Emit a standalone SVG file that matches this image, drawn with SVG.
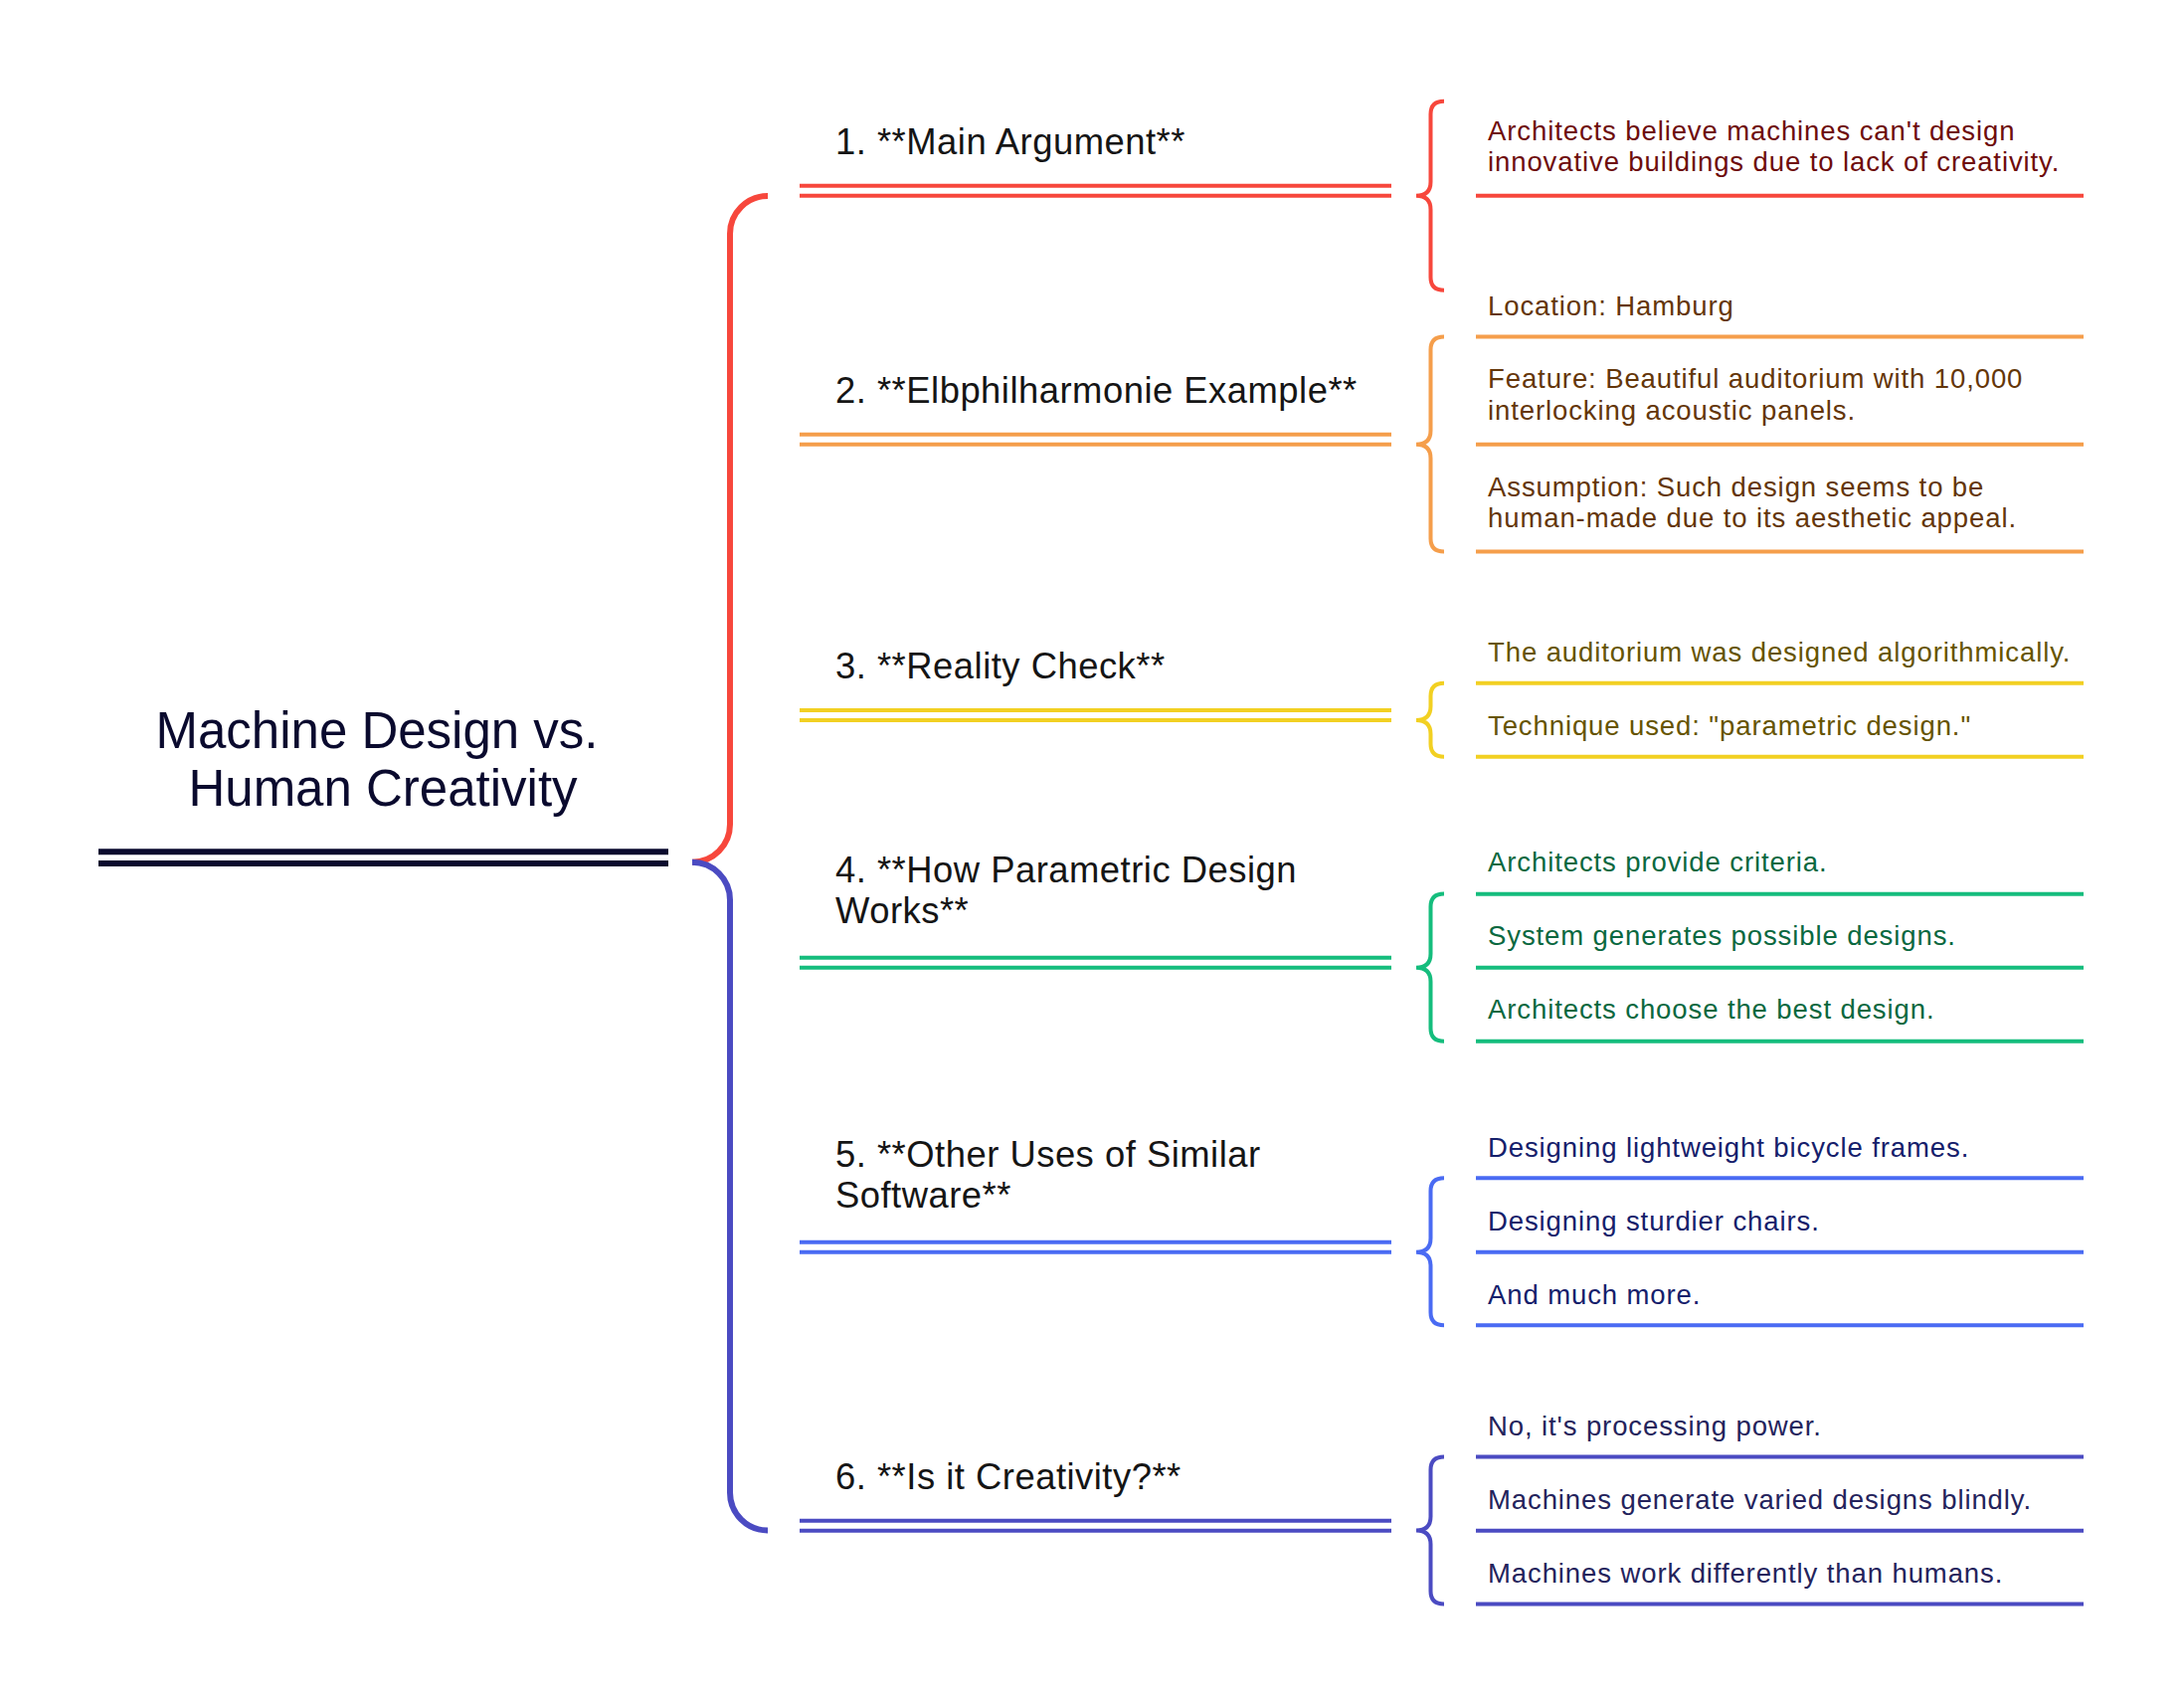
<svg xmlns="http://www.w3.org/2000/svg" width="2196" height="1716" viewBox="0 0 2196 1716">
<style>
.t{font-family:"Liberation Sans",Arial,sans-serif;}
.root{font-size:51px;fill:#0a0a2e;text-anchor:middle;}
.topic{font-size:36.4px;letter-spacing:0.5px;fill:#151515;}
.sub{font-size:27.5px;letter-spacing:0.9px;}
.ln{fill:none;stroke-width:4;}
.br{fill:none;stroke-width:4;stroke-linecap:butt;}
.red{stroke:#F7473C;} .org{stroke:#F59E4B;} .yel{stroke:#F2D022;} .grn{stroke:#15BD7D;} .blu{stroke:#4A6BF3;} .ind{stroke:#4B4BC2;}
</style>
<rect width="2196" height="1716" fill="#ffffff"/>
<g id="connectors">
  <path d="M696,866.7 A38,38 0 0 0 734,828.7 L734,235 A38,38 0 0 1 772,197" fill="none" stroke="#F7473C" stroke-width="6"/>
  <path d="M696,866.7 A38,38 0 0 1 734,904.7 L734,1500.5 A38,38 0 0 0 772,1538.5" fill="none" stroke="#4B4BC2" stroke-width="6"/>
  <path class="br red" d="M1452,101.7 Q1438.5,101.7 1438.5,114.7 L1438.5,182.7 Q1438.5,196.7 1424,196.7 Q1438.5,196.7 1438.5,210.7 L1438.5,278.7 Q1438.5,291.7 1452,291.7"/>
  <path class="br org" d="M1452,338.5 Q1438.5,338.5 1438.5,351.5 L1438.5,432.7 Q1438.5,446.7 1424,446.7 Q1438.5,446.7 1438.5,460.7 L1438.5,541.5 Q1438.5,554.5 1452,554.5"/>
  <path class="br yel" d="M1452,686.7 Q1438.5,686.7 1438.5,699.7 L1438.5,710 Q1438.5,724 1424,724 Q1438.5,724 1438.5,738 L1438.5,747.7 Q1438.5,760.7 1452,760.7"/>
  <path class="br grn" d="M1452,898.5 Q1438.5,898.5 1438.5,911.5 L1438.5,958.7 Q1438.5,972.7 1424,972.7 Q1438.5,972.7 1438.5,986.7 L1438.5,1033.7 Q1438.5,1046.7 1452,1046.7"/>
  <path class="br blu" d="M1452,1184.3 Q1438.5,1184.3 1438.5,1197.3 L1438.5,1244.7 Q1438.5,1258.7 1424,1258.7 Q1438.5,1258.7 1438.5,1272.7 L1438.5,1319.3 Q1438.5,1332.3 1452,1332.3"/>
  <path class="br ind" d="M1452,1464.5 Q1438.5,1464.5 1438.5,1477.5 L1438.5,1524.5 Q1438.5,1538.5 1424,1538.5 Q1438.5,1538.5 1438.5,1552.5 L1438.5,1599.5 Q1438.5,1612.5 1452,1612.5"/>
</g>
<g id="root">
  <text class="t root"><tspan x="379" y="752">Machine Design vs.</tspan><tspan x="385" y="810">Human Creativity</tspan></text>
  <line x1="99" y1="856.3" x2="672" y2="856.3" stroke="#0a0a2e" stroke-width="6"/>
  <line x1="99" y1="867.9" x2="672" y2="867.9" stroke="#0a0a2e" stroke-width="6"/>
</g>
<g id="topic1">
  <text class="t topic" x="840" y="155">1. **Main Argument**</text>
  <line class="ln red" x1="804" y1="186.7" x2="1399" y2="186.7"/>
  <line class="ln red" x1="804" y1="196.7" x2="1399" y2="196.7"/>
</g>
<g id="topic2">
  <text class="t topic" x="840" y="405">2. **Elbphilharmonie Example**</text>
  <line class="ln org" x1="804" y1="436.7" x2="1399" y2="436.7"/>
  <line class="ln org" x1="804" y1="446.7" x2="1399" y2="446.7"/>
</g>
<g id="topic3">
  <text class="t topic" x="840" y="682">3. **Reality Check**</text>
  <line class="ln yel" x1="804" y1="714" x2="1399" y2="714"/>
  <line class="ln yel" x1="804" y1="724" x2="1399" y2="724"/>
</g>
<g id="topic4">
  <text class="t topic"><tspan x="840" y="887">4. **How Parametric Design</tspan><tspan x="840" y="928">Works**</tspan></text>
  <line class="ln grn" x1="804" y1="962.7" x2="1399" y2="962.7"/>
  <line class="ln grn" x1="804" y1="972.7" x2="1399" y2="972.7"/>
</g>
<g id="topic5">
  <text class="t topic"><tspan x="840" y="1173">5. **Other Uses of Similar</tspan><tspan x="840" y="1214">Software**</tspan></text>
  <line class="ln blu" x1="804" y1="1248.7" x2="1399" y2="1248.7"/>
  <line class="ln blu" x1="804" y1="1258.7" x2="1399" y2="1258.7"/>
</g>
<g id="topic6">
  <text class="t topic" x="840" y="1497">6. **Is it Creativity?**</text>
  <line class="ln ind" x1="804" y1="1528.7" x2="1399" y2="1528.7"/>
  <line class="ln ind" x1="804" y1="1538.7" x2="1399" y2="1538.7"/>
</g>
<g id="sub1-1">
  <text class="t sub" fill="#6e0c0c"><tspan x="1496" y="141">Architects believe machines can't design</tspan><tspan x="1496" y="172">innovative buildings due to lack of creativity.</tspan></text>
  <line class="ln red" x1="1484" y1="196.7" x2="2095" y2="196.7"/>
</g>
<g id="sub2-1">
  <text class="t sub" fill="#643609" x="1496" y="317">Location: Hamburg</text>
  <line class="ln org" x1="1484" y1="338.5" x2="2095" y2="338.5"/>
</g>
<g id="sub2-2">
  <text class="t sub" fill="#643609"><tspan x="1496" y="390">Feature: Beautiful auditorium with 10,000</tspan><tspan x="1496" y="422">interlocking acoustic panels.</tspan></text>
  <line class="ln org" x1="1484" y1="446.7" x2="2095" y2="446.7"/>
</g>
<g id="sub2-3">
  <text class="t sub" fill="#643609"><tspan x="1496" y="498.5">Assumption: Such design seems to be</tspan><tspan x="1496" y="530">human-made due to its aesthetic appeal.</tspan></text>
  <line class="ln org" x1="1484" y1="554.5" x2="2095" y2="554.5"/>
</g>
<g id="sub3-1">
  <text class="t sub" fill="#665400" x="1496" y="664.5">The auditorium was designed algorithmically.</text>
  <line class="ln yel" x1="1484" y1="686.7" x2="2095" y2="686.7"/>
</g>
<g id="sub3-2">
  <text class="t sub" fill="#665400" x="1496" y="738.5">Technique used: "parametric design."</text>
  <line class="ln yel" x1="1484" y1="760.7" x2="2095" y2="760.7"/>
</g>
<g id="sub4-1">
  <text class="t sub" fill="#0a6840" x="1496" y="876">Architects provide criteria.</text>
  <line class="ln grn" x1="1484" y1="898.7" x2="2095" y2="898.7"/>
</g>
<g id="sub4-2">
  <text class="t sub" fill="#0a6840" x="1496" y="950">System generates possible designs.</text>
  <line class="ln grn" x1="1484" y1="972.7" x2="2095" y2="972.7"/>
</g>
<g id="sub4-3">
  <text class="t sub" fill="#0a6840" x="1496" y="1024">Architects choose the best design.</text>
  <line class="ln grn" x1="1484" y1="1046.7" x2="2095" y2="1046.7"/>
</g>
<g id="sub5-1">
  <text class="t sub" fill="#15206b" x="1496" y="1162.5">Designing lightweight bicycle frames.</text>
  <line class="ln blu" x1="1484" y1="1184.3" x2="2095" y2="1184.3"/>
</g>
<g id="sub5-2">
  <text class="t sub" fill="#15206b" x="1496" y="1236.5">Designing sturdier chairs.</text>
  <line class="ln blu" x1="1484" y1="1258.7" x2="2095" y2="1258.7"/>
</g>
<g id="sub5-3">
  <text class="t sub" fill="#15206b" x="1496" y="1310.5">And much more.</text>
  <line class="ln blu" x1="1484" y1="1332.3" x2="2095" y2="1332.3"/>
</g>
<g id="sub6-1">
  <text class="t sub" fill="#24235c" x="1496" y="1443">No, it's processing power.</text>
  <line class="ln ind" x1="1484" y1="1464.4" x2="2095" y2="1464.4"/>
</g>
<g id="sub6-2">
  <text class="t sub" fill="#24235c" x="1496" y="1517">Machines generate varied designs blindly.</text>
  <line class="ln ind" x1="1484" y1="1538.7" x2="2095" y2="1538.7"/>
</g>
<g id="sub6-3">
  <text class="t sub" fill="#24235c" x="1496" y="1591">Machines work differently than humans.</text>
  <line class="ln ind" x1="1484" y1="1612.4" x2="2095" y2="1612.4"/>
</g>
</svg>
